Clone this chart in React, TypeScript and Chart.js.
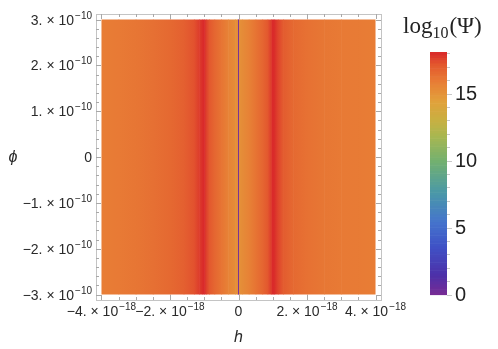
import React, { useEffect, useRef } from "react";
import { Chart, registerables } from "chart.js";

Chart.register(...registerables);

// h samples (units of 1e-18) and log10(Psi) values
const H_VALUES = [-4.0, -3.5, -3.0, -2.5, -2.0, -1.6, -1.3, -1.15, -1.05, -1.0, -0.95, -0.85, -0.7, -0.5, -0.3, -0.1, -0.03, -0.008, 0.008, 0.03, 0.1, 0.3, 0.5, 0.7, 0.85, 0.95, 1.0, 1.05, 1.15, 1.3, 1.6, 2.0, 2.5, 3.0, 3.5, 4.0];
const LOG_PSI = [15.9, 16.0, 16.15, 16.35, 16.6, 16.9, 17.3, 17.7, 18.0, 18.1, 17.7, 17.2, 16.7, 16.2, 15.7, 15.3, 15.1, 0.0, 0.0, 15.1, 15.3, 15.7, 16.2, 16.7, 17.2, 17.7, 18.1, 18.0, 17.6, 17.1, 16.6, 16.3, 16.1, 16.0, 15.95, 15.9];
// phi range (units of 1e-10)
const PHI_RANGE = [-3, 3];
const X_TICKS = [-4, -2, 0, 2, 4];
const X_EXP = "−18";
const Y_TICKS = [-3, -2, -1, 0, 1, 2, 3];
const Y_EXP = "−10";
const CBAR_TICKS = [0, 5, 10, 15];
const CBAR_RANGE = [0, 18.1];

const STOPS: [number, string][] = [
  [0.0, "#782c94"],
  [0.08, "#4d30a8"],
  [0.2, "#3f52c6"],
  [0.3, "#4574cc"],
  [0.42, "#4a98a8"],
  [0.55, "#72b070"],
  [0.65, "#a6b752"],
  [0.72, "#c8b041"],
  [0.8, "#e2a13b"],
  [0.88, "#e87c35"],
  [0.95, "#e3582e"],
  [1.0, "#d9282a"],
];

function hexRgb(h: string) {
  return [parseInt(h.slice(1, 3), 16), parseInt(h.slice(3, 5), 16), parseInt(h.slice(5, 7), 16)];
}
function colorFor(v: number) {
  let t = (v - CBAR_RANGE[0]) / (CBAR_RANGE[1] - CBAR_RANGE[0]);
  t = Math.max(0, Math.min(1, t));
  for (let i = 0; i < STOPS.length - 1; i++) {
    const [a, ca] = STOPS[i];
    const [b, cb] = STOPS[i + 1];
    if (t <= b) {
      const f = (t - a) / (b - a);
      const A = hexRgb(ca), B = hexRgb(cb);
      const c = A.map((x, k) => Math.round(x + (B[k] - x) * f));
      return `rgb(${c[0]},${c[1]},${c[2]})`;
    }
  }
  return STOPS[STOPS.length - 1][1];
}

const SANS = '"Liberation Sans", Arial, sans-serif';
const SERIF = '"Liberation Serif", "Times New Roman", serif';

function fmtMant(m: number) {
  return (m < 0 ? "−" : "") + Math.abs(m) + ". × 10";
}

function drawSci(ctx: CanvasRenderingContext2D, m: number, exp: string, x: number, y: number, align: "center" | "right") {
  ctx.textAlign = "left";
  ctx.textBaseline = "alphabetic";
  if (m === 0) {
    ctx.font = `14px ${SANS}`;
    const w = ctx.measureText("0").width;
    ctx.fillText("0", align === "center" ? x - w / 2 : x - w, y);
    return;
  }
  const base = fmtMant(m);
  ctx.font = `14px ${SANS}`;
  const wb = ctx.measureText(base).width;
  ctx.font = `10px ${SANS}`;
  const ws = ctx.measureText(exp).width;
  const w = wb + ws + 1;
  const x0 = align === "center" ? x - w / 2 : x - w;
  ctx.font = `14px ${SANS}`;
  ctx.fillText(base, x0, y);
  ctx.font = `10px ${SANS}`;
  ctx.fillText(exp, x0 + wb + 1, y - 6);
}

const heatPlugin = {
  id: "heat",
  beforeDatasetsDraw(chart: any) {
    const { ctx, scales } = chart;
    const xs = scales.x, ys = scales.y;
    const yTop = ys.getPixelForValue(PHI_RANGE[1]);
    const yBot = ys.getPixelForValue(PHI_RANGE[0]);
    ctx.save();
    for (let i = 0; i < H_VALUES.length - 1; i++) {
      const x0 = xs.getPixelForValue(H_VALUES[i]);
      const x1 = xs.getPixelForValue(H_VALUES[i + 1]);
      const g = ctx.createLinearGradient(x0, 0, x1, 0);
      g.addColorStop(0, colorFor(LOG_PSI[i]));
      g.addColorStop(1, colorFor(LOG_PSI[i + 1]));
      ctx.fillStyle = g;
      const ext = i < H_VALUES.length - 2 ? 0.6 : 0;
      ctx.fillRect(x0, yTop, x1 - x0 + ext, yBot - yTop);
    }
    ctx.restore();
  },
  afterDraw(chart: any) {
    const { ctx, scales, chartArea } = chart;
    const xs = scales.x, ys = scales.y;
    const { left, right, top, bottom } = chartArea;
    ctx.save();
    // frame
    ctx.strokeStyle = "#c4c4c4";
    ctx.lineWidth = 1;
    ctx.strokeRect(Math.round(left) + 0.5, Math.round(top) + 0.5, Math.round(right - left), Math.round(bottom - top));
    // ticks
    ctx.strokeStyle = "#a8a8a8";
    ctx.beginPath();
    for (let v = -4; v <= 4.001; v += 0.5) {
      const px = Math.round(xs.getPixelForValue(v)) + 0.5;
      const major = Math.abs(v / 2 - Math.round(v / 2)) < 1e-6;
      const len = major ? 5 : 3;
      ctx.moveTo(px, bottom); ctx.lineTo(px, bottom - len);
      ctx.moveTo(px, top); ctx.lineTo(px, top + len);
    }
    for (let k = -15; k <= 15; k++) {
      const v = k * 0.2;
      const py = Math.round(ys.getPixelForValue(v)) + 0.5;
      const major = k % 5 === 0;
      const len = major ? 5 : 3;
      ctx.moveTo(left, py); ctx.lineTo(left + len, py);
      ctx.moveTo(right, py); ctx.lineTo(right - len, py);
    }
    ctx.stroke();

    // tick labels
    ctx.fillStyle = "#2a2a2a";
    for (const t of X_TICKS) {
      drawSci(ctx, t, X_EXP, xs.getPixelForValue(t), bottom + 16, "center");
    }
    for (const t of Y_TICKS) {
      drawSci(ctx, t, Y_EXP, left - 4, ys.getPixelForValue(t) + 5, "right");
    }
    // axis titles
    ctx.fillStyle = "#2a2a2a";
    ctx.font = `italic 16px ${SANS}`;
    ctx.textAlign = "center";
    ctx.textBaseline = "alphabetic";
    ctx.fillText("h", xs.getPixelForValue(0), bottom + 42);
    ctx.fillText("ϕ", 13, ys.getPixelForValue(0) + 5);

    // colorbar
    const cbL = 430, cbW = 17;
    const cbBot = ys.getPixelForValue(PHI_RANGE[0]);
    const cbTop = 52;
    const cy = (v: number) => cbBot - (v - CBAR_RANGE[0]) / (CBAR_RANGE[1] - CBAR_RANGE[0]) * (cbBot - cbTop);
    const steps = 90;
    for (let i = 0; i < steps; i++) {
      const v0 = CBAR_RANGE[0] + (CBAR_RANGE[1] - CBAR_RANGE[0]) * i / steps;
      const v1 = CBAR_RANGE[0] + (CBAR_RANGE[1] - CBAR_RANGE[0]) * (i + 1) / steps;
      ctx.fillStyle = colorFor((v0 + v1) / 2);
      const ya = cy(v1), yb = cy(v0);
      ctx.fillRect(cbL, ya, cbW, yb - ya + 0.6);
    }
    ctx.strokeStyle = "#c8c8c8";
    ctx.beginPath();
    for (let v = 0; v <= 18; v++) {
      const py = Math.round(cy(v)) + 0.5;
      const len = v % 5 === 0 ? 5 : 3;
      ctx.moveTo(cbL + cbW, py); ctx.lineTo(cbL + cbW + len, py);
    }
    ctx.stroke();
    ctx.fillStyle = "#222222";
    ctx.font = `20px ${SANS}`;
    ctx.textAlign = "left";
    ctx.textBaseline = "middle";
    for (const t of CBAR_TICKS) {
      ctx.fillText(String(t), cbL + cbW + 8, cy(t) + 1);
    }
    // colorbar title log10(Ψ)
    ctx.textBaseline = "alphabetic";
    ctx.font = `23px ${SERIF}`;
    const tx = 403, tb = 33;
    ctx.fillText("log", tx, tb);
    const w1 = ctx.measureText("log").width;
    ctx.font = `16px ${SERIF}`;
    ctx.fillText("10", tx + w1, tb + 5);
    const w2 = ctx.measureText("10").width;
    ctx.font = `23px ${SERIF}`;
    ctx.fillText("(Ψ)", tx + w1 + w2 + 1, tb);
    ctx.restore();
  },
};

export default function App() {
  const ref = useRef<HTMLCanvasElement | null>(null);
  useEffect(() => {
    if (!ref.current) return;
    const chart = new Chart(ref.current, {
      type: "scatter",
      data: {
        datasets: [
          {
            label: "log10(Psi)",
            data: H_VALUES.map((h) => ({ x: h, y: 0 })),
            pointRadius: 0,
            showLine: false,
          },
        ],
      },
      options: {
        responsive: false,
        animation: false,
        layout: { padding: { left: 96, top: 14, right: 117, bottom: 49 } },
        plugins: { legend: { display: false }, tooltip: { enabled: false } },
        scales: {
          x: { type: "linear", display: false, min: -4.16, max: 4.16 },
          y: { type: "linear", display: false, min: -3.12, max: 3.12 },
        },
      },
      plugins: [heatPlugin],
    });
    return () => chart.destroy();
  }, []);
  return (
    <div style={{ position: "absolute", left: 0, top: 0, width: 498, height: 349, background: "#fff" }}>
      <canvas ref={ref} width={498} height={349} style={{ display: "block" }} />
    </div>
  );
}
